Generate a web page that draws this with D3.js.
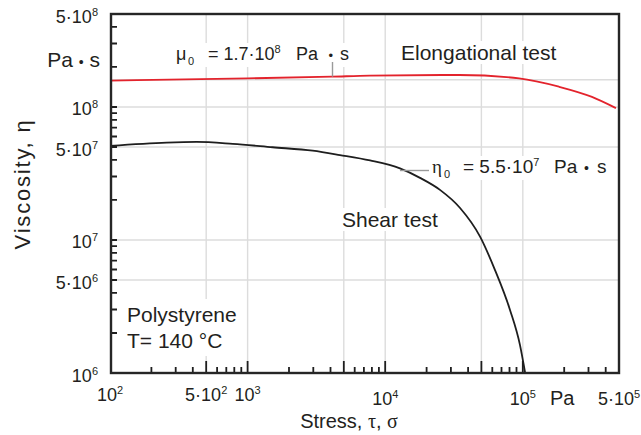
<!DOCTYPE html>
<html>
<head>
<meta charset="utf-8">
<script src="https://cdn.jsdelivr.net/npm/d3@7"></script>
<style>
  body { margin: 0; background: #fff; }
  text { font-family: "Liberation Sans", Arial, sans-serif; fill: #231f20; }
</style>
</head>
<body>
<script>
// shear test: stress (Pa) and viscosity (Pa s)
var shearStress = [100, 258, 425, 780, 1520, 2970, 4690, 7760, 12800, 17900, 25000, 35000, 48900, 62800, 80700, 95400, 104000];
var shearVisc = [5.1e7, 5.4e7, 5.46e7, 5.28e7, 4.98e7, 4.69e7, 4.35e7, 3.96e7, 3.45e7, 2.93e7, 2.38e7, 1.74e7, 1.06e7, 5.94e6, 2.98e6, 1.62e6, 1.0e6];

// elongational test
var elongStress = [100, 1000, 4100, 7700, 34500, 94000, 183000, 318000, 475000];
var elongVisc = [1.58e8, 1.64e8, 1.69e8, 1.72e8, 1.74e8, 1.64e8, 1.42e8, 1.19e8, 0.98e8];

var xLabelValues = [1e2, 5e2, 1e3, 1e4, 1e5, 5e5];
var yLabelValues = [1e6, 5e6, 1e7, 5e7, 1e8, 5e8];
var xGrid = [5e2, 1e3, 5e3, 1e4, 5e4, 1e5];
var yGrid = [5e6, 1e7, 5e7, 1e8, 1.6e8];

var outerWidth = 641, outerHeight = 435;

var svg = d3.select('body').append('svg')
    .attr('width', outerWidth)
    .attr('height', outerHeight);

var x = d3.scaleLog().domain([1e2, 5e5]).range([110, 619]);
var y = d3.scaleLog().domain([1e6, 5e8]).range([373, 14]);

// grid
svg.append('g').selectAll('line').data(xGrid).enter().append('line')
    .attr('x1', d => x(d)).attr('x2', d => x(d))
    .attr('y1', y(5e8)).attr('y2', y(1e6))
    .attr('stroke', '#dcdcdc').attr('stroke-width', 1.4);
svg.append('g').selectAll('line').data(yGrid).enter().append('line')
    .attr('y1', d => y(d)).attr('y2', d => y(d))
    .attr('x1', x(1e2)).attr('x2', x(5e5))
    .attr('stroke', '#dcdcdc').attr('stroke-width', 1.4);

// curves
var line = d3.line()
    .x(d => x(d[0]))
    .y(d => y(d[1]))
    .curve(d3.curveMonotoneX);

svg.append('path')
    .attr('d', line(d3.zip(elongStress, elongVisc)))
    .attr('fill', 'none').attr('stroke', '#e3232c').attr('stroke-width', 1.8);

svg.append('path')
    .attr('d', line(d3.zip(shearStress, shearVisc)))
    .attr('fill', 'none').attr('stroke', '#1e1e1e').attr('stroke-width', 1.8);

// labels with white background
function boxed(build, padX, padY) {
    var g = svg.append('g');
    var t = g.append('text');
    build(t);
    var b = t.node().getBBox();
    g.insert('rect', 'text')
        .attr('x', b.x - padX).attr('y', b.y - padY)
        .attr('width', b.width + 2 * padX).attr('height', b.height + 2 * padY)
        .attr('fill', '#fff');
    return g;
}

boxed(function(t) {
    t.attr('font-size', 18).attr('y', 60);
    t.append('tspan').attr('x', 176).text('μ');
    t.append('tspan').attr('x', 188).attr('dy', 5).attr('font-size', 11).text('0');
    t.append('tspan').attr('x', 208).attr('dy', -5).text('= 1.7·10');
    t.append('tspan').attr('dy', -7).attr('font-size', 11).text('8');
    t.append('tspan').attr('x', 296).attr('dy', 7).text('Pa');
    t.append('tspan').attr('x', 328.5).attr('font-size', 13).text('•');
    t.append('tspan').attr('x', 340).text('s');
}, 2, 0);

boxed(function(t) {
    t.attr('font-size', 21).attr('x', 401).attr('y', 60).text('Elongational test');
}, 3, 0);

boxed(function(t) {
    t.attr('font-size', 19).attr('y', 173);
    t.append('tspan').attr('x', 432).attr('font-family', '"Liberation Serif", serif').text('η');
    t.append('tspan').attr('x', 444).attr('dy', 5).attr('font-size', 11).text('0');
    t.append('tspan').attr('x', 463).attr('dy', -5).text('= 5.5·10');
    t.append('tspan').attr('dy', -7).attr('font-size', 11).text('7');
    t.append('tspan').attr('x', 554).attr('dy', 7).text('Pa');
    t.append('tspan').attr('x', 584).attr('font-size', 14).text('•');
    t.append('tspan').attr('x', 597).text('s');
}, 3, 0);

boxed(function(t) {
    t.attr('font-size', 21).attr('x', 342).attr('y', 227).text('Shear test');
}, 3, 0);

boxed(function(t) {
    t.attr('font-size', 21);
    t.append('tspan').attr('x', 127).attr('y', 322).text('Polystyrene');
    t.append('tspan').attr('x', 127).attr('y', 348).text('T= 140 °C');
}, 9, 4);

// leader lines
svg.append('line')
    .attr('x1', 332.5).attr('x2', 332.5).attr('y1', 62).attr('y2', y(1.69e8))
    .attr('stroke', '#9a9a9a').attr('stroke-width', 1.4);
svg.append('line')
    .attr('x1', x(12800)).attr('x2', 429).attr('y1', 170.5).attr('y2', 170.5)
    .attr('stroke', '#9a9a9a').attr('stroke-width', 1.4);

// ticks
function mant(d) {
    var e = Math.floor(Math.log10(d) + 1e-9);
    return Math.round(d / Math.pow(10, e));
}

function logTicks(lo, hi) {
    var out = [];
    for (var e = Math.floor(Math.log10(lo)); e <= Math.ceil(Math.log10(hi)); e++)
        for (var k = 1; k < 10; k++) {
            var v = k * Math.pow(10, e);
            if (v > lo * 1.0001 && v < hi * 0.9999) out.push(v);
        }
    return out;
}

var xTicks = logTicks(1e2, 5e5);
var yTicks = logTicks(1e6, 5e8);
var y0 = y(1e6), x0 = x(1e2);

svg.append('path')
    .attr('d', xTicks.map(function(v) {
        var len = (mant(v) === 1 || mant(v) === 5) ? 12 : 6;
        return 'M' + x(v).toFixed(1) + ',' + y0 + 'V' + (y0 - len);
    }).join(''))
    .attr('fill', 'none').attr('stroke', '#1e1e1e').attr('stroke-width', 1.8);

svg.append('path')
    .attr('d', yTicks.map(function(v) {
        return 'M' + x0 + ',' + y(v).toFixed(1) + 'H' + (x0 + 7);
    }).join(''))
    .attr('fill', 'none').attr('stroke', '#1e1e1e').attr('stroke-width', 1.8);

// frame
svg.append('rect')
    .attr('x', x0 + 1).attr('y', y(5e8))
    .attr('width', x(5e5) - x0 - 1).attr('height', y0 - y(5e8))
    .attr('fill', 'none').attr('stroke', '#262626').attr('stroke-width', 2.4);

// tick labels
function powLabel(t, v) {
    var e = Math.floor(Math.log10(v) + 1e-9), m = mant(v);
    t.append('tspan').text((m === 1 ? '' : m + '·') + '10');
    t.append('tspan').attr('dy', -7).attr('font-size', 11).text(e);
}

svg.append('g').selectAll('text').data(xLabelValues).enter().append('text')
    .attr('x', d => x(d))
    .attr('y', d => d >= 1e4 ? 405 : 401)
    .attr('font-size', 18)
    .attr('text-anchor', 'middle')
    .each(function(d) { powLabel(d3.select(this), d); });

svg.append('g').selectAll('text').data(yLabelValues).enter().append('text')
    .attr('x', 98)
    .attr('y', d => y(d) + 8.5)
    .attr('font-size', 18)
    .attr('text-anchor', 'end')
    .each(function(d) { powLabel(d3.select(this), d); });

// units
svg.append('text').attr('x', 550).attr('y', 405).attr('font-size', 20).text('Pa');

var pas = svg.append('text').attr('x', 100).attr('y', 66.5).attr('font-size', 21).attr('text-anchor', 'end');
pas.append('tspan').text('Pa ');
pas.append('tspan').attr('font-size', 14).text('•');
pas.append('tspan').text(' s');

// axis titles
var xt = svg.append('text').attr('x', 349).attr('y', 428).attr('font-size', 20).attr('text-anchor', 'middle');
xt.append('tspan').text('Stress, ');
xt.append('tspan').attr('font-family', '"Liberation Serif", serif').text('τ');
xt.append('tspan').text(', ');
xt.append('tspan').attr('font-family', '"Liberation Serif", serif').text('σ');

svg.append('text')
    .attr('transform', 'translate(30,184) rotate(-90)')
    .attr('font-size', 22)
    .attr('letter-spacing', 1.8)
    .attr('text-anchor', 'middle')
    .text('Viscosity, η');
</script>
</body>
</html>
